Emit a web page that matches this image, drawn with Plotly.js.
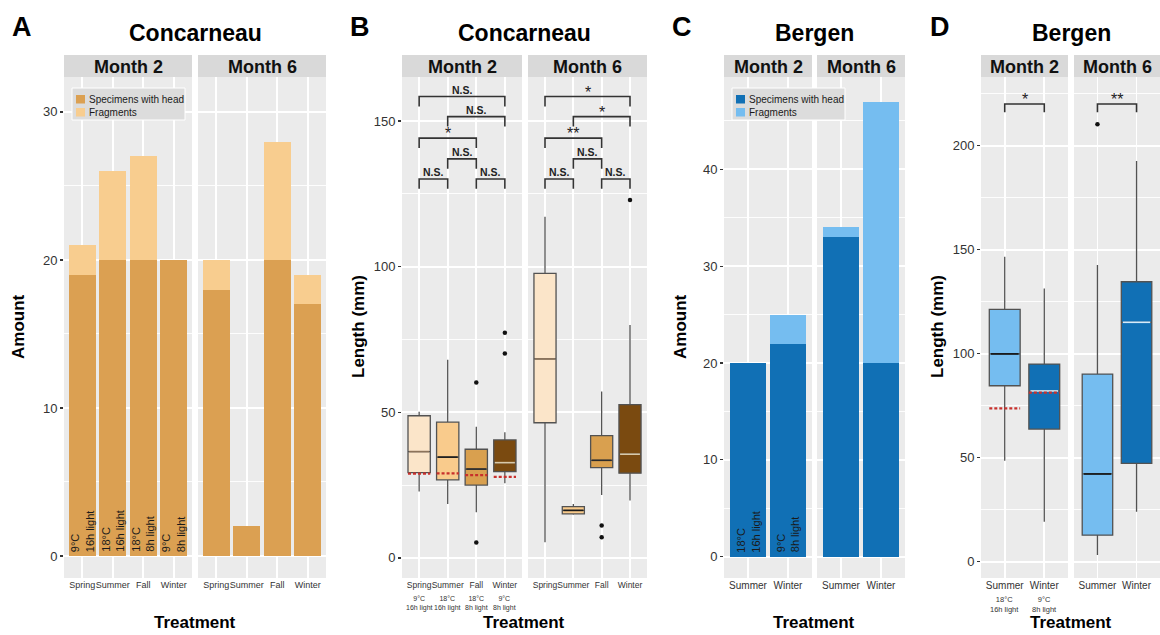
<!DOCTYPE html>
<html><head><meta charset="utf-8">
<script src="https://cdn.plot.ly/plotly-3.0.1.min.js"></script>
<style>html,body{margin:0;padding:0;background:#fff;} #chart{width:1160px;height:635px;}</style>
</head><body><div id="chart"></div>
<script>
// ================= DATA =================
const seasonsConc = ['Spring','Summer','Fall','Winter'];
const seasonsBerg = ['Summer','Winter'];
const months = ['Month 2','Month 6'];
const condConc = ['9°C<br>16h light','18°C<br>16h light','18°C<br>8h light','9°C<br>8h light'];
const condBerg = ['18°C<br>16h light','9°C<br>8h light'];

// Panel A – Concarneau, amount
const concHeadM2  = [19, 20, 20, 20];
const concTotalM2 = [21, 26, 27, 20];
const concHeadM6  = [18, 2, 20, 17];
const concTotalM6 = [20, 2, 28, 19];

// Panel C – Bergen, amount
const bergHeadM2  = [20, 22];
const bergTotalM2 = [20, 25];
const bergHeadM6  = [33, 20];
const bergTotalM6 = [34, 47];

// Panel B – Concarneau, length (mm)
const concLowM2  = [22.8, 18.5, 15.7, 25.6];
const concQ1M2   = [29.3, 26.8, 25.0, 29.6];
const concMedM2  = [36.5, 34.6, 30.5, 32.7];
const concQ3M2   = [48.8, 46.6, 37.3, 40.5];
const concHighM2 = [50.2, 68.0, 45.0, 43.1];
const concRefM2  = [28.9, 29.0, 28.4, 27.8];
const concOutM2x = ['Fall', 'Fall', 'Winter', 'Winter'];
const concOutM2y = [60.2, 5.3, 77.3, 70.2];

const concLowM6  = [5.4, 14.8, 21.6, 19.7];
const concQ1M6   = [46.4, 15.1, 31.0, 29.1];
const concMedM6  = [68.3, 16.3, 33.5, 35.6];
const concQ3M6   = [97.7, 17.6, 42.0, 52.6];
const concHighM6 = [117.1, 18.5, 57.1, 80.0];
const concOutM6x = ['Fall', 'Fall', 'Winter'];
const concOutM6y = [11.1, 7.1, 122.9];

// Panel D – Bergen, length (mm)
const bergLowM2  = [48.6, 19.2];
const bergQ1M2   = [84.6, 63.8];
const bergMedM2  = [99.9, 82.1];
const bergQ3M2   = [121.3, 95.0];
const bergHighM2 = [146.6, 131.4];
const bergRefM2  = [73.7, 81.3];
const bergLowM6  = [3.2, 24.0];
const bergQ1M6   = [12.8, 47.3];
const bergMedM6  = [42.2, 115.1];
const bergQ3M6   = [90.2, 134.6];
const bergHighM6 = [142.6, 192.6];
const bergOutM6x = ['Summer'];
const bergOutM6y = [210.3];

// Significance brackets
const concSigPairs = [['Spring','Winter'],['Summer','Winter'],['Spring','Fall'],['Summer','Fall'],['Spring','Summer'],['Fall','Winter']];
const concSigY  = [158.4, 151.5, 144.1, 137.0, 130.1, 130.1];
const concSigM2 = ['N.S.','N.S.','*','N.S.','N.S.','N.S.'];
const concSigM6 = ['*','*','**','N.S.','N.S.','N.S.'];
const bergSigPairs = [['Summer','Winter']];
const bergSigY  = [220.0];
const bergSigM2 = ['*'];
const bergSigM6 = ['**'];

const legendLabels = ['Specimens with head', 'Fragments'];

// ================= STYLE =================
const FONT = 'Liberation Sans, Arial, Helvetica, sans-serif';
const colConcHead = '#dba052', colConcFrag = '#f8cd8f';
const colBergHead = '#1170b5', colBergFrag = '#75bdf0';
const concBoxFill = ['#fbe5c9', '#f9cb8c', '#d9a04f', '#7a4a10'];
const concMedCol  = ['#8c735a', '#1a1a1a', '#2b2b2b', '#d9c9a9'];
const bergBoxFill = ['#75bdf0', '#1170b5'];
const bergMedCol  = ['#111111', '#d6ebfa'];
const BOXW = 0.78, BARW = 0.9;
const W = 1160, H = 635;
const px = v => v / W, py = v => 1 - v / H;
const yTopPx = 77, yBotPx = 578;

const traces = [];
const shapes = [];
const annotations = [];

function addBars(xa, ya, head, total, cHead, cFrag) {
  const xs = head.map((_, i) => i + 1);
  traces.push({type:'bar', x:xs, y:head, xaxis:xa, yaxis:ya, width:BARW,
    marker:{color:cHead, line:{width:0}}, showlegend:false, hoverinfo:'skip'});
  traces.push({type:'bar', x:xs, y:total.map((t, i) => t - head[i]), xaxis:xa, yaxis:ya, width:BARW,
    marker:{color:cFrag, line:{width:0}}, showlegend:false, hoverinfo:'skip'});
}
function addBoxes(xa, ya, lo, q1, med, q3, hi, fills, medCols) {
  lo.forEach((_, i) => {
    traces.push({type:'box', x:[i + 1], q1:[q1[i]], median:[med[i]], q3:[q3[i]],
      lowerfence:[lo[i]], upperfence:[hi[i]], width:BOXW, whiskerwidth:0,
      fillcolor:fills[i], line:{color:'#525252', width:1.3}, boxpoints:false,
      xaxis:xa, yaxis:ya, showlegend:false, hoverinfo:'skip'});
    traces.push({type:'scatter', mode:'lines', x:[i + 1 - BOXW/2 + 0.04, i + 1 + BOXW/2 - 0.04],
      y:[med[i], med[i]], line:{color:medCols[i], width:1.6}, xaxis:xa, yaxis:ya,
      showlegend:false, hoverinfo:'skip'});
  });
}
function addRef(xa, ya, ref) {
  ref.forEach((v, i) => {
    traces.push({type:'scatter', mode:'lines', x:[i + 1 - BOXW/2, i + 1 + BOXW/2], y:[v, v],
      line:{color:'#c8302c', width:2.2, dash:'3px,2px'}, xaxis:xa, yaxis:ya,
      showlegend:false, hoverinfo:'skip'});
  });
}
function addOutliers(xa, ya, cats, xs, ys) {
  traces.push({type:'scatter', mode:'markers', x:xs.map(c => cats.indexOf(c) + 1), y:ys,
    marker:{color:'#111', size:4.5}, xaxis:xa, yaxis:ya, showlegend:false, hoverinfo:'skip'});
}
function addSig(xa, ya, cats, pairs, ys, labels, leg) {
  pairs.forEach((p, i) => {
    const a = cats.indexOf(p[0]) + 1, b = cats.indexOf(p[1]) + 1, y = ys[i];
    shapes.push({type:'path', xref:xa, yref:ya,
      path:`M ${a},${y - leg} L ${a},${y} L ${b},${y} L ${b},${y - leg}`,
      line:{color:'#333', width:1.6}});
    const star = labels[i].indexOf('*') >= 0;
    annotations.push({xref:xa, yref:ya, x:(a + b) / 2, y:y, yanchor:'bottom', xanchor:'center',
      text:labels[i], showarrow:false, yshift: star ? -6 : -1,
      font:{family:FONT, size: star ? 16 : 10.5, color:'#222', weight: star ? 'normal' : 'bold'}});
  });
}
function addBarText(xa, ya, conds) {
  conds.forEach((c, i) => {
    annotations.push({xref:xa, yref:ya, x:i + 1, y:0, xanchor:'center', yanchor:'bottom',
      yshift:2, text:c, textangle:-90, align:'left', showarrow:false,
      font:{family:FONT, size:11, color:'#1a1a1a'}});
  });
}
function addLegend(x0, y0, cols) {
  shapes.push({type:'rect', xref:'paper', yref:'paper', x0:px(x0), x1:px(x0 + 113),
    y0:py(y0 + 32), y1:py(y0), fillcolor:'#dcdcdc', line:{color:'#ffffff', width:1}});
  cols.forEach((c, i) => {
    const top = y0 + 7 + i * 13;
    shapes.push({type:'rect', xref:'paper', yref:'paper', x0:px(x0 + 4), x1:px(x0 + 13),
      y0:py(top + 8.5), y1:py(top), fillcolor:c, line:{width:0}});
    annotations.push({xref:'paper', yref:'paper', x:px(x0 + 15), y:py(top + 4.5), xanchor:'left',
      yanchor:'middle', text:legendLabels[i], showarrow:false,
      font:{family:FONT, size:10, color:'#1a1a1a'}});
  });
}

// ---- Facets ----
const facets = [
  {xa:'x',  ya:'y',  dom:[64, 192],   cats:seasonsConc, month:0, tf:9},
  {xa:'x2', ya:'y',  dom:[198, 326],  cats:seasonsConc, month:1, tf:9},
  {xa:'x3', ya:'y2', dom:[402, 522],  cats:seasonsConc, month:0, tf:8.5},
  {xa:'x4', ya:'y2', dom:[528, 647],  cats:seasonsConc, month:1, tf:8.5},
  {xa:'x5', ya:'y3', dom:[724, 812],  cats:seasonsBerg, month:0, tf:10},
  {xa:'x6', ya:'y3', dom:[817, 905],  cats:seasonsBerg, month:1, tf:10},
  {xa:'x7', ya:'y4', dom:[981, 1068], cats:seasonsBerg, month:0, tf:10},
  {xa:'x8', ya:'y4', dom:[1074, 1160], cats:seasonsBerg, month:1, tf:10}
];

// Panel A
addBars('x',  'y', concHeadM2, concTotalM2, colConcHead, colConcFrag);
addBars('x2', 'y', concHeadM6, concTotalM6, colConcHead, colConcFrag);
// Panel C
addBars('x5', 'y3', bergHeadM2, bergTotalM2, colBergHead, colBergFrag);
addBars('x6', 'y3', bergHeadM6, bergTotalM6, colBergHead, colBergFrag);
// Panel B
addBoxes('x3', 'y2', concLowM2, concQ1M2, concMedM2, concQ3M2, concHighM2, concBoxFill, concMedCol);
addBoxes('x4', 'y2', concLowM6, concQ1M6, concMedM6, concQ3M6, concHighM6, concBoxFill, concMedCol);
addRef('x3', 'y2', concRefM2);
addOutliers('x3', 'y2', seasonsConc, concOutM2x, concOutM2y);
addOutliers('x4', 'y2', seasonsConc, concOutM6x, concOutM6y);
// Panel D
addBoxes('x7', 'y4', bergLowM2, bergQ1M2, bergMedM2, bergQ3M2, bergHighM2, bergBoxFill, bergMedCol);
addBoxes('x8', 'y4', bergLowM6, bergQ1M6, bergMedM6, bergQ3M6, bergHighM6, bergBoxFill, bergMedCol);
addRef('x7', 'y4', bergRefM2);
addOutliers('x8', 'y4', seasonsBerg, bergOutM6x, bergOutM6y);

// Significance
addSig('x3', 'y2', seasonsConc, concSigPairs, concSigY, concSigM2, 3.4);
addSig('x4', 'y2', seasonsConc, concSigPairs, concSigY, concSigM6, 3.4);
addSig('x7', 'y4', seasonsBerg, bergSigPairs, bergSigY, bergSigM2, 4.0);
addSig('x8', 'y4', seasonsBerg, bergSigPairs, bergSigY, bergSigM6, 4.0);

// Bar texts
addBarText('x', 'y', condConc);
addBarText('x5', 'y3', condBerg);

// Legends
addLegend(72, 88, [colConcHead, colConcFrag]);
addLegend(732, 88, [colBergHead, colBergFrag]);

// ---- Layout ----
const layout = {
  width:W, height:H, margin:{l:0, r:0, t:0, b:0},
  paper_bgcolor:'#ffffff', plot_bgcolor:'#ebebeb',
  barmode:'stack', boxmode:'overlay', showlegend:false,
  font:{family:FONT, color:'#222'},
  shapes:shapes, annotations:annotations
};

const yDom = [py(yBotPx), py(yTopPx)];
const yBase = {domain:yDom, showgrid:true, gridcolor:'#ffffff', gridwidth:1.8, zeroline:false,
  ticks:'outside', ticklen:3, tickwidth:1.2, tickcolor:'#333', showline:false,
  tickfont:{family:FONT, size:13, color:'#333'}, fixedrange:true};
layout.yaxis  = Object.assign({}, yBase, {anchor:'x',  range:[-1.49, 32.36], tickvals:[0,10,20,30],
  minor:{showgrid:true, gridcolor:'#ffffff', gridwidth:0.9, tickvals:[5,15,25]}});
layout.yaxis2 = Object.assign({}, yBase, {anchor:'x3', range:[-6.9, 165.1], tickvals:[0,50,100,150],
  minor:{showgrid:true, gridcolor:'#ffffff', gridwidth:0.9, tickvals:[25,75,125]}});
layout.yaxis3 = Object.assign({}, yBase, {anchor:'x5', range:[-2.2, 49.53], tickvals:[0,10,20,30,40],
  minor:{showgrid:true, gridcolor:'#ffffff', gridwidth:0.9, tickvals:[5,15,25,35,45]}});
layout.yaxis4 = Object.assign({}, yBase, {anchor:'x7', range:[-7.8, 233], tickvals:[0,50,100,150,200],
  minor:{showgrid:true, gridcolor:'#ffffff', gridwidth:0.9, tickvals:[25,75,125,175,225]}});

facets.forEach((f, k) => {
  const key = k === 0 ? 'xaxis' : 'xaxis' + (k + 1);
  const n = f.cats.length;
  layout[key] = {domain:[px(f.dom[0]), px(f.dom[1])], anchor:f.ya, range:[0.4, n + 0.6],
    tickvals:f.cats.map((_, i) => i + 1), ticktext:f.cats, ticks:'', tickangle:0, showgrid:true,
    gridcolor:'#ffffff', gridwidth:1.8, zeroline:false, showline:false,
    tickfont:{family:FONT, size:f.tf, color:'#333'}, fixedrange:true};
  // strip
  shapes.push({type:'rect', xref:'paper', yref:'paper', x0:px(f.dom[0]), x1:px(f.dom[1]),
    y0:py(77), y1:py(55), fillcolor:'#d9d9d9', line:{width:0}, layer:'below'});
  annotations.push({xref:'paper', yref:'paper', x:px((f.dom[0] + f.dom[1]) / 2), y:py(66.5),
    xanchor:'center', yanchor:'middle', text:months[f.month], showarrow:false,
    font:{family:FONT, size:18, color:'#111', weight:'bold'}});
});

// Sub-labels below tick labels (panels B and D, Month 2)
condConc.forEach((c, i) => annotations.push({xref:'x3', yref:'paper', x:i + 1, y:py(593),
  yanchor:'top', xanchor:'center', text:c, showarrow:false,
  font:{family:FONT, size:7, color:'#333'}}));
condBerg.forEach((c, i) => annotations.push({xref:'x7', yref:'paper', x:i + 1, y:py(593),
  yanchor:'top', xanchor:'center', text:c, showarrow:false,
  font:{family:FONT, size:7.5, color:'#333'}}));

// Panel titles, letters, axis titles
const panels = [
  {letter:'A', lx:22,  title:'Concarneau', cx:195,  ytitle:'Amount',      yx:19},
  {letter:'B', lx:360, title:'Concarneau', cx:524,  ytitle:'Length (mm)', yx:359},
  {letter:'C', lx:682, title:'Bergen',     cx:814,  ytitle:'Amount',      yx:681},
  {letter:'D', lx:940, title:'Bergen',     cx:1071, ytitle:'Length (mm)', yx:938}
];
panels.forEach(p => {
  annotations.push({xref:'paper', yref:'paper', x:px(p.lx), y:py(27), xanchor:'center', yanchor:'middle',
    text:p.letter, showarrow:false, font:{family:FONT, size:27, color:'#000', weight:'bold'}});
  annotations.push({xref:'paper', yref:'paper', x:px(p.cx), y:py(33), xanchor:'center', yanchor:'middle',
    text:p.title, showarrow:false, font:{family:FONT, size:23, color:'#000', weight:'bold'}});
  annotations.push({xref:'paper', yref:'paper', x:px(p.yx), y:py(327), xanchor:'center', yanchor:'middle',
    text:p.ytitle, textangle:-90, showarrow:false, font:{family:FONT, size:17, color:'#000', weight:'bold'}});
  annotations.push({xref:'paper', yref:'paper', x:px(p.cx), y:py(622), xanchor:'center', yanchor:'middle',
    text:'Treatment', showarrow:false, font:{family:FONT, size:17, color:'#000', weight:'bold'}});
});

Plotly.newPlot('chart', traces, layout, {displayModeBar:false, staticPlot:true});
</script>
</body></html>
